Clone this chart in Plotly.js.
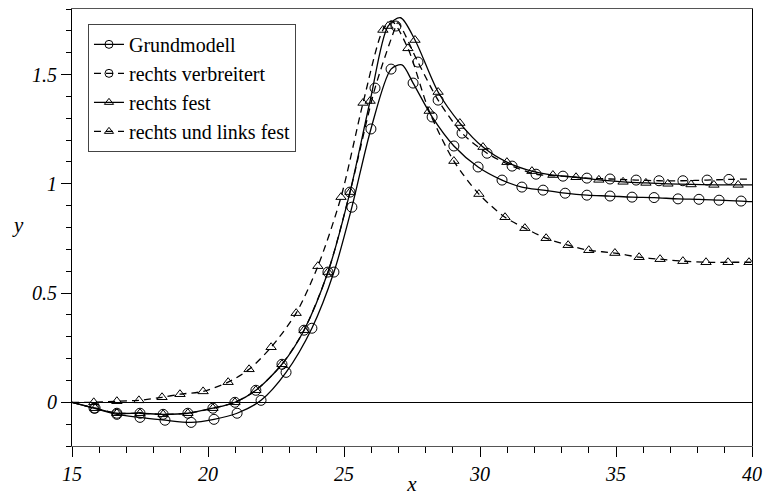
<!DOCTYPE html>
<html>
<head>
<meta charset="utf-8">
<script src="https://cdn.plot.ly/plotly-3.0.1.min.js"></script>
<style>html,body{margin:0;padding:0;background:#fff;}#chart{width:765px;height:496px;}</style>
</head>
<body>
<div id="chart"></div>
<script>
// Series names
const seriesNames = ["Grundmodell", "rechts verbreitert", "rechts fest", "rechts und links fest"];

// Symbol points
const grundX = [15.81, 16.65, 17.50, 18.42, 19.38, 20.22, 21.07, 21.95, 22.87, 23.82, 24.63, 25.29, 25.99, 26.73, 27.54, 28.24, 29.04, 29.93, 30.81, 31.54, 32.32, 33.13, 33.93, 34.78, 35.59, 36.40, 37.28, 38.05, 38.79, 39.60];
const grundY = [-0.027, -0.055, -0.069, -0.082, -0.092, -0.078, -0.050, 0.009, 0.137, 0.339, 0.596, 0.893, 1.251, 1.525, 1.461, 1.306, 1.173, 1.077, 1.017, 0.985, 0.971, 0.957, 0.948, 0.944, 0.939, 0.937, 0.931, 0.929, 0.925, 0.921];
// Extra line-only knots (start, peak, end)
const grundKnotX = [15, 27.13, 40];
const grundKnotY = [0, 1.544, 0.918];

const verbX = [15.85, 16.65, 17.50, 18.35, 19.26, 20.18, 20.99, 21.76, 22.72, 23.53, 24.41, 25.22, 26.14, 26.91, 27.72, 28.46, 29.34, 30.26, 31.18, 32.06, 33.05, 33.93, 34.78, 35.74, 36.58, 37.46, 38.35, 39.15];
const verbY = [-0.027, -0.050, -0.050, -0.055, -0.050, -0.027, 0.000, 0.055, 0.174, 0.330, 0.596, 0.962, 1.438, 1.722, 1.557, 1.383, 1.232, 1.140, 1.081, 1.044, 1.035, 1.026, 1.022, 1.017, 1.014, 1.014, 1.017, 1.020];
const verbKnotX = [15, 26.98, 40];
const verbKnotY = [0, 1.738, 1.022];

const festX = [15.85, 16.65, 17.50, 18.35, 19.26, 20.18, 20.99, 21.76, 22.72, 23.53, 24.41, 25.22, 25.96, 26.62, 27.61, 28.46, 29.26, 30.11, 30.99, 31.91, 32.68, 33.53, 34.37, 35.26, 36.10, 36.91, 37.76, 38.60, 39.49];
const festY = [-0.027, -0.050, -0.050, -0.055, -0.050, -0.027, 0.000, 0.055, 0.174, 0.330, 0.596, 0.962, 1.379, 1.722, 1.658, 1.420, 1.278, 1.168, 1.099, 1.058, 1.040, 1.030, 1.018, 1.009, 1.004, 1.000, 0.997, 0.995, 0.995];
const festKnotX = [15, 27.08, 40];
const festKnotY = [0, 1.760, 0.995];

const linksX = [15.80, 16.65, 17.46, 18.31, 18.97, 19.82, 20.74, 21.51, 22.32, 23.24, 24.04, 24.89, 25.70, 26.43, 27.35, 28.13, 29.04, 29.96, 30.92, 31.65, 32.43, 33.24, 34.00, 34.96, 35.85, 36.62, 37.46, 38.31, 39.12, 39.89];
const linksY = [0.000, 0.005, 0.009, 0.023, 0.037, 0.050, 0.092, 0.151, 0.252, 0.408, 0.623, 0.939, 1.370, 1.704, 1.620, 1.333, 1.104, 0.953, 0.847, 0.797, 0.751, 0.719, 0.696, 0.683, 0.664, 0.655, 0.646, 0.641, 0.641, 0.641];
const linksKnotX = [15, 26.75, 40];
const linksKnotY = [0, 1.745, 0.641];

// Axis ticks
const xTicks = [15, 20, 25, 30, 35, 40];
const xTickText = ["15", "20", "25", "30", "35", "40"];
const yTicks = [0, 0.5, 1, 1.5];
const yTickText = ["0", "0.5", "1", "1.5"];

function mergeLine(px, py, kx, ky) {
  const pts = [];
  px.forEach((x, i) => pts.push([x, py[i]]));
  kx.forEach((x, i) => pts.push([x, ky[i]]));
  pts.sort((a, b) => a[0] - b[0]);
  return {x: pts.map(p => p[0]), y: pts.map(p => p[1])};
}

const series = [
  {name: seriesNames[0], px: grundX, py: grundY, kx: grundKnotX, ky: grundKnotY, dash: "solid", sym: "circle-open"},
  {name: seriesNames[1], px: verbX, py: verbY, kx: verbKnotX, ky: verbKnotY, dash: "7px,5px", sym: "circle-open"},
  {name: seriesNames[2], px: festX, py: festY, kx: festKnotX, ky: festKnotY, dash: "solid", sym: "triangle-up-open"},
  {name: seriesNames[3], px: linksX, py: linksY, kx: linksKnotX, ky: linksKnotY, dash: "7px,5px", sym: "triangle-up-open"}
];

const traces = [];
series.forEach(s => {
  const l = mergeLine(s.px, s.py, s.kx, s.ky);
  traces.push({x: l.x, y: l.y, mode: "lines", showlegend: false, hoverinfo: "skip",
    line: {color: "#000", width: 1.3, dash: s.dash, shape: "spline", smoothing: 0.8}});
  traces.push({x: s.px, y: s.py, mode: "markers", showlegend: false,
    marker: {symbol: s.sym, size: s.sym === "circle-open" ? 10 : 9, color: "#000", line: {width: 1, color: "#000"}}});
});
series.forEach(s => {
  traces.push({x: [null], y: [null], mode: "lines+markers", name: s.name,
    line: {color: "#000", width: 1.3, dash: s.dash},
    marker: {symbol: s.sym, size: 8, color: "#000", line: {width: 1, color: "#000"}}});
});

const serif = "Liberation Serif, Times New Roman, serif";
const tickFont = {family: serif, size: 20, color: "#000"};
const italic = arr => arr.map(t => "<i>" + t + "</i>");

const layout = {
  width: 765, height: 496,
  margin: {l: 72, r: 13, t: 9, b: 50},
  paper_bgcolor: "#fff", plot_bgcolor: "#fff",
  font: {family: serif, size: 20, color: "#000"},
  showlegend: true,
  legend: {x: 0.0235, y: 0.966, xanchor: "left", yanchor: "top",
    bgcolor: "#fff", bordercolor: "#444", borderwidth: 1,
    font: {family: serif, size: 20, color: "#000"},
    tracegroupgap: 0},
  xaxis: {range: [15, 40], tickvals: xTicks, ticktext: italic(xTickText), ticks: "outside", ticklen: 10, tickwidth: 1, tickcolor: "#000",
    minor: {dtick: 1, ticks: "outside", ticklen: 6, tickcolor: "#000", showgrid: false},
    showgrid: false, zeroline: false, showline: true, linecolor: "#555", linewidth: 1, mirror: true,
    tickfont: tickFont,
    title: {text: "<i>x</i>", font: {family: serif, size: 21, color: "#000"}, standoff: 0}},
  yaxis: {range: [-0.2, 1.8], tickvals: yTicks, ticktext: italic(yTickText), ticks: "outside", ticklen: 10, tickwidth: 1, tickcolor: "#000",
    minor: {dtick: 0.1, ticks: "outside", ticklen: 5, tickcolor: "#000", showgrid: false},
    showgrid: false, zeroline: true, zerolinecolor: "#000", zerolinewidth: 1,
    showline: true, linecolor: "#000", linewidth: 1, mirror: true,
    tickfont: tickFont},
  annotations: [{text: "<i>y</i>", xref: "paper", yref: "paper", x: -0.079, y: 0.506, xanchor: "center", yanchor: "middle",
    showarrow: false, font: {family: serif, size: 21, color: "#000"}}]
};

Plotly.newPlot("chart", traces, layout, {displayModeBar: false, staticPlot: true});
</script>
</body>
</html>
